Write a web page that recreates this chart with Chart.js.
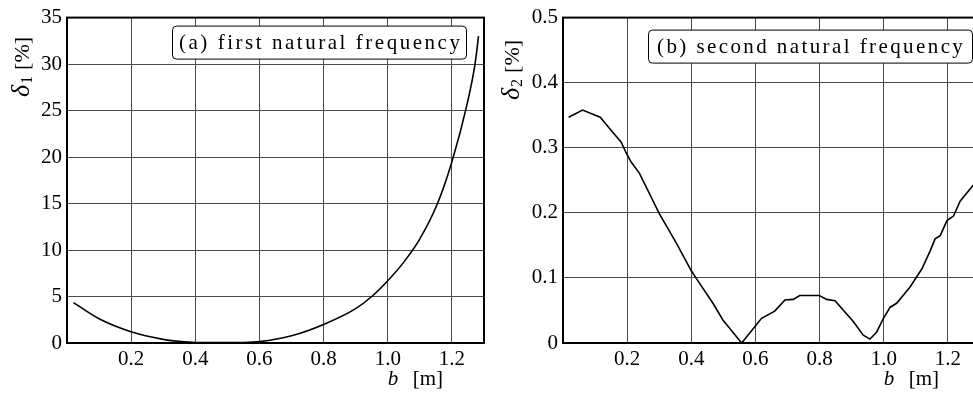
<!DOCTYPE html>
<html>
<head>
<meta charset="utf-8">
<script src="https://cdn.jsdelivr.net/npm/chart.js@4"></script>
<style>
  body { margin: 0; width: 973px; height: 393px; overflow: hidden; background: #fff; position: relative; }
  canvas { position: absolute; top: 0; }
  #chartA { left: 0; }
  #chartB { left: 490px; }
</style>
</head>
<body>
<canvas id="chartA" width="490" height="393"></canvas>
<canvas id="chartB" width="496" height="393"></canvas>
<script>
// data
// (a) first natural frequency
const bA = [0.02, 0.1, 0.2, 0.3, 0.35, 0.4, 0.45, 0.5, 0.55, 0.6, 0.7, 0.8, 0.9, 0.95, 1.0, 1.05, 1.1, 1.155, 1.2, 1.246, 1.272, 1.283];
const deltaA = [4.35, 2.6, 1.2, 0.39, 0.18, 0.06, 0.05, 0.05, 0.06, 0.15, 0.78, 2.0, 3.7, 5.0, 6.7, 8.7, 11.2, 15.0, 19.5, 25.5, 30.0, 33.0];

// (b) second natural frequency
const bB = [0.0175, 0.061, 0.116, 0.155, 0.181, 0.197, 0.2125, 0.238, 0.301, 0.353, 0.40, 0.416, 0.4675, 0.499, 0.557,
  0.619, 0.66, 0.692, 0.7175, 0.738, 0.799, 0.822, 0.848, 0.905, 0.936, 0.957, 0.978, 0.999, 1.02, 1.04,
  1.082, 1.119, 1.145, 1.16, 1.176, 1.197, 1.2175, 1.238, 1.28];
const deltaB = [0.347, 0.358, 0.347, 0.324, 0.309, 0.292, 0.278, 0.261, 0.198, 0.154, 0.111, 0.099, 0.061, 0.035, 0.0,
  0.038, 0.049, 0.066, 0.067, 0.073, 0.073, 0.067, 0.065, 0.033, 0.012, 0.006, 0.017, 0.038, 0.055, 0.061,
  0.086, 0.114, 0.142, 0.160, 0.165, 0.188, 0.195, 0.218, 0.243];

const xTicks = [0.2, 0.4, 0.6, 0.8, 1.0, 1.2];

const serif = "'Liberation Serif', 'DejaVu Serif', serif";
const gridColor = '#4a4a4a';

function toPoints(xs, ys) {
  return xs.map((x, i) => ({ x: x, y: ys[i] }));
}

// frame, axis titles and the boxed caption
function decorPlugin(opts) {
  return {
    id: 'decor',
    afterDraw(chart) {
      const ctx = chart.ctx;
      const a = chart.chartArea;
      const xs = chart.scales.x;
      ctx.save();

      // plot frame
      ctx.strokeStyle = '#000';
      ctx.lineWidth = 2;
      ctx.strokeRect(a.left, a.top, a.right - a.left, a.bottom - a.top);

      // caption box
      ctx.lineWidth = 1;
      ctx.beginPath();
      ctx.roundRect(a.left + opts.boxX + 0.5, a.top + opts.boxY + 0.5, opts.boxW, opts.boxH, 4);
      ctx.fillStyle = '#fff';
      ctx.fill();
      ctx.stroke();
      ctx.fillStyle = '#000';
      ctx.font = '21px ' + serif;
      ctx.textBaseline = 'alphabetic';
      ctx.textAlign = 'left';
      // spread the letters out to the width seen in the figure
      const natural = ctx.measureText(opts.caption).width;
      const gap = (opts.textW - natural) / (opts.caption.length - 1);
      ctx.letterSpacing = gap.toFixed(2) + 'px';
      ctx.fillText(opts.caption, a.left + opts.boxX + opts.textPad, a.top + opts.boxY + 23);
      ctx.letterSpacing = '0px';

      // x title: b [m]
      const tx = xs.getPixelForValue(1.0);
      ctx.font = 'italic 21px ' + serif;
      ctx.fillText('b', tx, 385);
      ctx.font = '21px ' + serif;
      ctx.fillText('[m]', tx + 25, 385);

      // y title: delta_n [%], rotated
      ctx.translate(opts.yTitleX, opts.yTitleY);
      ctx.rotate(-Math.PI / 2);
      ctx.font = 'italic 26px ' + serif;
      ctx.fillText('δ', 0, 0);
      let w = ctx.measureText('δ').width;
      ctx.font = '16px ' + serif;
      ctx.fillText(opts.sub, w + 1, 3);
      w += ctx.measureText(opts.sub).width + 7;
      ctx.font = '22px ' + serif;
      ctx.fillText('[%]', w, 0);

      ctx.restore();
    }
  };
}

function makeChart(id, points, yMax, yStep, yLabel, yWidth, smooth, decor) {
  return new Chart(document.getElementById(id), {
    type: 'line',
    data: {
      datasets: [{
        data: points,
        borderColor: '#000',
        borderWidth: 1.6,
        pointRadius: 0,
        fill: false,
        tension: smooth ? 0.4 : 0,
        cubicInterpolationMode: smooth ? 'monotone' : 'default'
      }]
    },
    options: {
      responsive: false,
      animation: false,
      devicePixelRatio: 1,
      layout: { padding: { top: 15, right: 6, left: 0, bottom: 0 } },
      plugins: { legend: { display: false }, tooltip: { enabled: false } },
      scales: {
        x: {
          type: 'linear',
          min: 0,
          max: 1.3,
          afterBuildTicks: s => { s.ticks = [0].concat(xTicks).map(v => ({ value: v })); },
          afterFit: s => { s.height = 50; },
          grid: { color: gridColor, lineWidth: 1, drawTicks: false },
          border: { display: false },
          ticks: {
            padding: 4,
            color: '#000',
            font: { family: serif, size: 21 },
            callback: v => v === 0 ? '' : v.toFixed(1)
          }
        },
        y: {
          min: 0,
          max: yMax,
          afterFit: s => { s.width = yWidth; },
          grid: { color: gridColor, lineWidth: 1, drawTicks: false },
          border: { display: false },
          ticks: {
            stepSize: yStep,
            padding: 5,
            color: '#000',
            font: { family: serif, size: 21 },
            callback: yLabel
          }
        }
      }
    },
    plugins: [decorPlugin(decor)]
  });
}

makeChart('chartA', toPoints(bA, deltaA), 35, 5, v => String(v), 67, true, {
  caption: '(a) first natural frequency',
  boxX: 105, boxY: 8, boxW: 294, boxH: 33, textPad: 7, textW: 281,
  sub: '1', yTitleX: 29, yTitleY: 97
});

makeChart('chartB', toPoints(bB, deltaB), 0.5, 0.1, v => v === 0 ? '0' : v.toFixed(1), 73, false, {
  caption: '(b) second natural frequency',
  boxX: 85, boxY: 12, boxW: 324, boxH: 33, textPad: 9, textW: 306,
  sub: '2', yTitleX: 29, yTitleY: 100
});
</script>
</body>
</html>
